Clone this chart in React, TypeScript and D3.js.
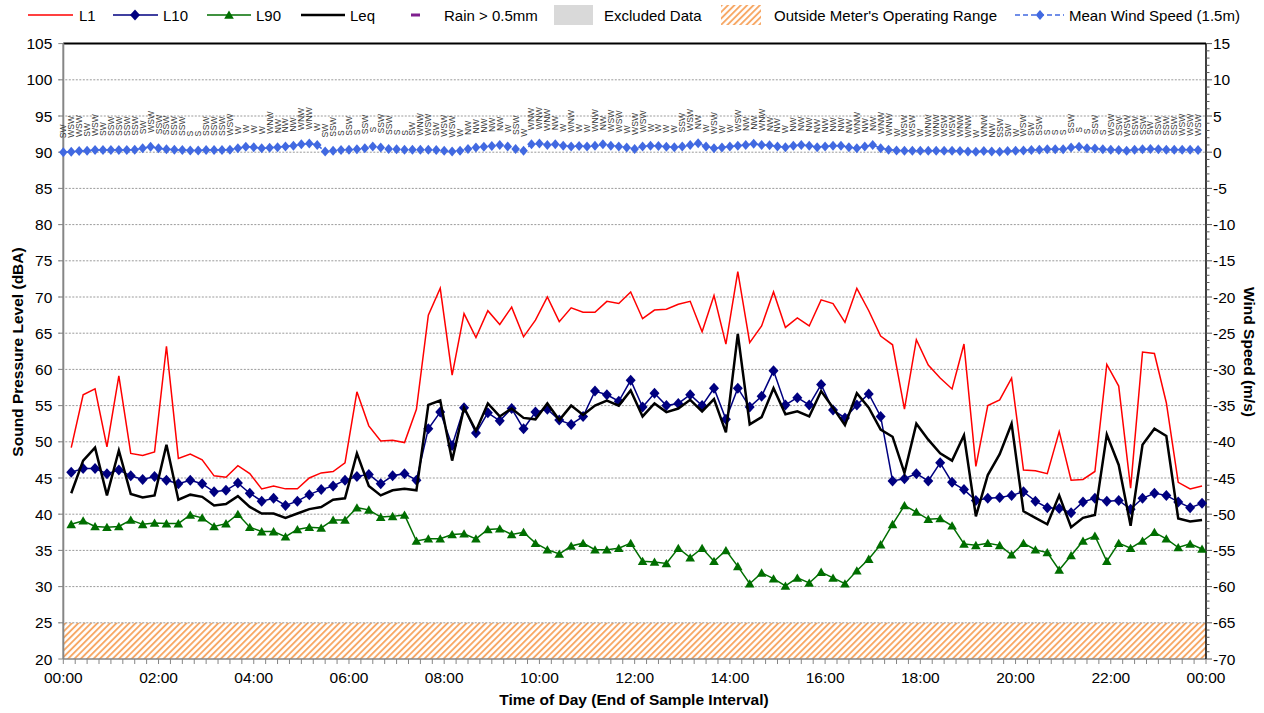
import * as d3 from "d3";

// 15-minute noise statistics (dBA)
const L1 = [49.2, 56.5, 57.3, 49.3, 59.1, 48.4, 48.1, 48.6, 63.2, 47.7, 48.3, 47.5, 45.3, 45.1, 46.7, 45.6, 43.5, 43.9, 43.5, 43.5, 45.0, 45.7, 45.9, 47.1, 56.9, 52.2, 50.1, 50.2, 49.9, 54.5, 67.5, 71.2, 59.2, 67.7, 64.4, 68.1, 66.2, 68.6, 64.5, 66.8, 70.0, 66.6, 68.5, 67.9, 67.9, 69.4, 69.1, 70.7, 67.0, 68.2, 68.3, 69.0, 69.4, 65.2, 70.2, 63.5, 73.5, 63.7, 66.0, 70.7, 65.8, 67.1, 66.0, 69.6, 69.1, 66.5, 71.2, 68.1, 64.6, 63.4, 54.5, 64.1, 60.6, 58.8, 57.3, 63.5, 46.6, 55.0, 55.8, 58.8, 46.1, 46.0, 45.6, 51.4, 44.7, 44.8, 45.9, 60.7, 57.7, 43.6, 62.4, 62.2, 55.4, 44.4, 43.5, 43.9];
const L10 = [45.8, 46.3, 46.3, 45.6, 46.1, 45.3, 44.8, 45.2, 44.7, 44.2, 44.7, 44.2, 43.1, 43.3, 44.3, 42.9, 41.8, 42.2, 41.2, 41.8, 42.7, 43.4, 43.9, 44.7, 45.2, 45.5, 44.2, 45.3, 45.6, 44.7, 51.8, 54.1, 49.5, 54.7, 51.2, 54.0, 52.9, 54.6, 51.8, 54.1, 54.5, 53.0, 52.4, 53.5, 57.0, 56.5, 55.6, 58.5, 54.8, 56.7, 55.0, 55.3, 56.5, 55.0, 57.4, 53.1, 57.4, 54.8, 56.3, 59.8, 55.1, 56.1, 55.1, 57.9, 54.4, 53.3, 55.1, 56.6, 53.5, 44.6, 44.9, 45.6, 44.6, 47.1, 44.4, 43.4, 41.9, 42.2, 42.3, 42.6, 43.1, 41.8, 40.9, 40.8, 40.2, 41.7, 42.2, 41.8, 41.9, 40.7, 42.2, 42.9, 42.6, 41.7, 40.9, 41.5];
const L90 = [38.6, 39.1, 38.3, 38.2, 38.3, 39.2, 38.6, 38.8, 38.7, 38.7, 39.9, 39.5, 38.3, 38.7, 40.0, 38.2, 37.6, 37.6, 36.9, 37.9, 38.2, 38.1, 39.2, 39.2, 40.9, 40.6, 39.6, 39.7, 39.9, 36.3, 36.6, 36.6, 37.2, 37.3, 36.6, 37.9, 38.0, 37.2, 37.5, 36.0, 35.1, 34.5, 35.6, 36.0, 35.1, 35.1, 35.3, 36.0, 33.5, 33.4, 33.2, 35.3, 34.0, 35.3, 33.5, 35.0, 32.8, 30.4, 31.9, 31.1, 30.1, 31.2, 30.5, 32.0, 31.2, 30.4, 32.2, 33.8, 35.8, 38.6, 41.2, 40.3, 39.3, 39.4, 38.4, 35.9, 35.7, 36.0, 35.7, 34.4, 36.0, 35.1, 34.7, 32.3, 34.3, 36.3, 37.0, 33.5, 36.0, 35.3, 36.3, 37.5, 36.6, 35.4, 35.9, 35.2];
const LEQ = [42.9, 47.4, 49.2, 42.6, 48.8, 42.8, 42.3, 42.6, 49.6, 42.0, 42.7, 42.4, 41.2, 41.4, 42.5, 41.0, 40.1, 40.1, 39.5, 40.1, 40.7, 41.0, 42.0, 42.2, 48.4, 43.9, 42.6, 43.3, 43.5, 43.3, 55.1, 55.7, 47.4, 54.7, 51.5, 55.3, 53.5, 54.6, 53.3, 53.1, 55.3, 53.0, 55.0, 53.7, 55.0, 55.7, 55.0, 57.1, 53.5, 55.3, 54.1, 54.6, 55.8, 54.2, 55.9, 51.3, 64.9, 52.4, 53.4, 57.4, 53.8, 54.2, 53.5, 57.0, 54.7, 52.3, 56.7, 54.7, 51.7, 50.7, 45.7, 52.5, 50.3, 48.4, 47.4, 50.9, 39.7, 45.4, 48.3, 52.5, 40.4, 39.5, 38.6, 42.6, 38.2, 39.5, 39.9, 51.0, 46.8, 38.4, 49.6, 51.8, 50.8, 39.4, 39.0, 39.2];

// 10-minute wind (m/s) and direction
const WIND_SPEED = [0.0, 0.05, 0.15, 0.2, 0.3, 0.3, 0.3, 0.3, 0.3, 0.35, 0.55, 0.75, 0.55, 0.4, 0.35, 0.3, 0.25, 0.25, 0.3, 0.3, 0.3, 0.35, 0.55, 0.75, 0.7, 0.55, 0.6, 0.7, 0.8, 0.9, 1.1, 1.2, 1.0, 0.1, 0.2, 0.3, 0.35, 0.4, 0.55, 0.8, 0.65, 0.45, 0.4, 0.35, 0.35, 0.35, 0.35, 0.3, 0.2, 0.1, 0.2, 0.45, 0.65, 0.75, 0.85, 1.0, 0.8, 0.45, 0.2, 1.1, 1.2, 1.0, 1.1, 0.9, 0.8, 0.85, 0.8, 0.9, 1.1, 0.9, 0.8, 0.65, 0.45, 0.8, 0.9, 0.85, 0.75, 0.7, 0.8, 1.0, 1.25, 0.8, 0.55, 0.65, 0.8, 0.9, 1.0, 1.15, 1.0, 0.95, 0.8, 0.7, 0.9, 1.0, 0.9, 0.7, 0.8, 0.9, 0.9, 0.7, 0.55, 0.8, 1.0, 0.55, 0.35, 0.25, 0.2, 0.2, 0.2, 0.2, 0.2, 0.2, 0.2, 0.15, 0.1, 0.05, 0.15, 0.1, 0.05, 0.15, 0.2, 0.25, 0.3, 0.35, 0.4, 0.4, 0.4, 0.65, 0.75, 0.55, 0.5, 0.4, 0.35, 0.3, 0.2, 0.35, 0.4, 0.45, 0.4, 0.35, 0.35, 0.35, 0.35, 0.3];
const WIND_DIR = [
  "SW", "WSW", "WSW", "SW", "WSW", "SW", "SSW", "SSW", "SSW", "SSW",
  "SW", "WSW", "SSW", "SSW", "SSW", "SSW", "S", "S", "SSW", "SSW",
  "SSW", "WSW", "W", "W", "W", "W", "WNW", "NW", "NW", "NW",
  "WNW", "WNW", "W", "SW", "SSW", "S", "SSW", "S", "SSW", "S",
  "SSW", "SSW", "S", "S", "SW", "WNW", "WSW", "SW", "WSW",
  "WSW", "W", "NW", "NW", "NW", "NW", "NW", "W", "SSW", "W",
  "WNW", "WNW", "WNW", "NW", "W", "WNW", "W", "W", "WNW", "NW",
  "WSW", "WSW", "W", "WSW", "WSW", "W", "W", "W", "W", "SSW",
  "WSW", "NW", "W", "WSW", "W", "W", "WSW", "NW", "NW", "WNW",
  "NW", "NW", "W", "NW", "NW", "NW", "NW",
  "NW", "NW", "NW", "NW", "WNW", "NW", "NW", "WNW", "WNW", "W",
  "WSW", "WSW", "W", "WNW", "WNW", "WSW", "WSW", "WNW", "WNW", "W",
  "WNW", "NW", "SSW", "SW", "W", "WSW", "SW", "SSW", "S", "S",
  "S", "SSW", "S", "S", "SSW", "S", "WSW", "SSW", "WSW", "SSW",
  "SSW", "SW", "SSW", "SSW", "SSW", "WSW", "WSW", "WSW",
];

const NOISE_OFFSET_MIN = 10;
const NOISE_STEP_MIN = 15;
const WIND_STEP_MIN = 10;

const W = 1264;
const H = 713;
const LEFT = 63.3;
const RIGHT = 1206;
const TOP = 43.6;
const BOTTOM = 659;

const day = new Date(2021, 0, 1);
const noiseTimes = L1.map((_, i) => d3.timeMinute.offset(day, NOISE_OFFSET_MIN + i * NOISE_STEP_MIN));
const windTimes = WIND_SPEED.map((_, i) => d3.timeMinute.offset(day, i * WIND_STEP_MIN));

const x = d3.scaleTime().domain([day, d3.timeDay.offset(day, 1)]).range([LEFT, RIGHT]);
const y = d3.scaleLinear().domain([20, 105]).range([BOTTOM, TOP]);
const y2 = d3.scaleLinear().domain([-70, 15]).range([BOTTOM, TOP]);

const diamond = "M0,-5.5L5,0L0,5.5L-5,0Z";
const windDiamond = "M0,-5L4.3,0L0,5L-4.3,0Z";
const triangle = "M0,-4.5L4.8,3.8L-4.8,3.8Z";

const FONT = "'Liberation Sans', Arial, sans-serif";

type LabelProps = {
  x: number;
  y: number;
  size: number;
  anchor?: "start" | "middle" | "end";
  bold?: boolean;
  rot?: number;
  children: React.ReactNode;
};

function Label({ x, y, size, anchor = "start", bold, rot, children }: LabelProps) {
  return (
    <text
      transform={`translate(${x},${y})${rot ? ` rotate(${rot})` : ""}`}
      fontSize={size}
      textAnchor={anchor}
      dominantBaseline="central"
      fontWeight={bold ? "bold" : "normal"}
      fill="#000"
    >
      {children}
    </text>
  );
}

export default function App() {
  const line = d3
    .line<number>()
    .x((_, i) => x(noiseTimes[i]))
    .y((d) => y(d));
  const windLine = d3
    .line<number>()
    .x((_, i) => x(windTimes[i]))
    .y((d) => y2(d));

  const gridVals = d3.range(25, 101, 5);
  const leftTicks = d3.range(20, 106, 5);
  const rightTicks = d3.range(-70, 16, 5);
  const rightMinor = d3.range(-70, 16, 1);
  const xMajor = x.ticks(d3.timeHour.every(2)!);
  const xMinor = x.ticks(d3.timeMinute.every(15)!);
  const fmt = d3.timeFormat("%H:%M");

  return (
    <div style={{ position: "absolute", left: 0, top: 0 }}>
      <svg width={W} height={H} style={{ display: "block", background: "#fff" }} fontFamily={FONT}>
        <defs>
          <pattern id="hatch" patternUnits="userSpaceOnUse" width={4.5} height={4.5} patternTransform="rotate(45)">
            <rect width={4.5} height={4.5} fill="#fff" />
            <line x1={1} y1={0} x2={1} y2={4.5} stroke="#F7A35C" strokeWidth={1.8} />
          </pattern>
        </defs>

        {/* operating range band */}
        <rect x={LEFT} y={y(25)} width={RIGHT - LEFT} height={y(20) - y(25)} fill="url(#hatch)" />

        {/* gridlines */}
        {gridVals.map((v) => (
          <line key={v} x1={LEFT - 5} x2={RIGHT} y1={y(v)} y2={y(v)} stroke="#9a9a9a" strokeWidth={1} strokeDasharray="2,1.5" />
        ))}

        {/* axes */}
        <line x1={LEFT} x2={RIGHT} y1={TOP} y2={TOP} stroke="#000" strokeWidth={2} />
        <line x1={LEFT} x2={RIGHT} y1={BOTTOM} y2={BOTTOM} stroke="#868686" strokeWidth={1.5} />
        <line x1={LEFT} x2={LEFT} y1={TOP} y2={BOTTOM} stroke="#868686" strokeWidth={2} />
        <line x1={RIGHT} x2={RIGHT} y1={TOP} y2={BOTTOM} stroke="#000" strokeWidth={1.5} />
        {leftTicks.map((v) => (
          <g key={v}>
            <line x1={LEFT - 5} x2={LEFT} y1={y(v)} y2={y(v)} stroke="#868686" />
            <Label x={LEFT - 11} y={y(v)} size={15.5} anchor="end">{v}</Label>
          </g>
        ))}
        {rightMinor.map((v) => (
          <line key={v} x1={RIGHT} x2={RIGHT + (v % 5 === 0 ? 6 : 3.5)} y1={y2(v)} y2={y2(v)} stroke="#555" />
        ))}
        {rightTicks.map((v) => (
          <Label key={v} x={RIGHT + 7} y={y2(v)} size={15.5}>{v}</Label>
        ))}
        {xMinor.map((t, i) => (
          <line key={i} x1={x(t)} x2={x(t)} y1={BOTTOM} y2={BOTTOM + 5} stroke="#868686" />
        ))}
        {xMajor.map((t, i) => (
          <Label key={i} x={x(t)} y={BOTTOM + 18} size={15.5} anchor="middle">{fmt(t)}</Label>
        ))}

        {/* axis titles */}
        <Label x={634} y={699} size={15.5} anchor="middle" bold>Time of Day (End of Sample Interval)</Label>
        <Label x={17} y={352} size={15.5} anchor="middle" bold rot={-90}>Sound Pressure Level (dBA)</Label>
        <Label x={1249} y={352} size={15.5} anchor="middle" bold rot={90}>Wind Speed (m/s)</Label>

        {/* series */}
        <path d={line(L1)!} fill="none" stroke="#FF0000" strokeWidth={1.5} />
        <path d={line(L10)!} fill="none" stroke="#000080" strokeWidth={1.5} />
        {L10.map((v, i) => (
          <path key={i} d={diamond} transform={`translate(${x(noiseTimes[i])},${y(v)})`} fill="#000080" />
        ))}
        <path d={line(L90)!} fill="none" stroke="#006E00" strokeWidth={1.5} />
        {L90.map((v, i) => (
          <path key={i} d={triangle} transform={`translate(${x(noiseTimes[i])},${y(v)})`} fill="#006E00" />
        ))}
        <path d={line(LEQ)!} fill="none" stroke="#000" strokeWidth={2.5} />

        {/* wind */}
        <path d={windLine(WIND_SPEED)!} fill="none" stroke="#4169E1" strokeWidth={1.5} strokeDasharray="5,3" />
        {WIND_SPEED.map((v, i) => (
          <path key={i} d={windDiamond} transform={`translate(${x(windTimes[i])},${y2(v)})`} fill="#4169E1" />
        ))}
        <g fontSize={8.6} fill="#333">
          {WIND_SPEED.map((v, i) => (
            <text key={i} transform={`translate(${x(windTimes[i]) + 3},${y2(v) - 14}) rotate(-90)`} textAnchor="start">
              {WIND_DIR[i]}
            </text>
          ))}
        </g>

        {/* legend */}
        <g>
          <line x1={28} x2={73} y1={15} y2={15} stroke="#FF0000" strokeWidth={1.5} />
          <Label x={79} y={15} size={15}>L1</Label>
          <line x1={113} x2={158} y1={15} y2={15} stroke="#000080" strokeWidth={1.5} />
          <path d={diamond} transform="translate(135,15)" fill="#000080" />
          <Label x={163} y={15} size={15}>L10</Label>
          <line x1={207} x2={251} y1={15} y2={15} stroke="#006E00" strokeWidth={1.5} />
          <path d={triangle} transform="translate(229,15)" fill="#006E00" />
          <Label x={256} y={15} size={15}>L90</Label>
          <line x1={301} x2={345} y1={15} y2={15} stroke="#000" strokeWidth={2.5} />
          <Label x={350} y={15} size={15}>Leq</Label>
          <line x1={411} x2={420} y1={15} y2={15} stroke="#7F1F8F" strokeWidth={3} />
          <Label x={444} y={15} size={15}>{"Rain > 0.5mm"}</Label>
          <rect x={554} y={5} width={39} height={20} fill="#D9D9D9" />
          <Label x={604} y={15} size={15}>Excluded Data</Label>
          <rect x={721} y={5} width={40} height={20} fill="url(#hatch)" />
          <Label x={774} y={15} size={15}>Outside Meter's Operating Range</Label>
          <line x1={1015} x2={1064} y1={15} y2={15} stroke="#4169E1" strokeWidth={1.5} strokeDasharray="5,3" />
          <path d={windDiamond} transform="translate(1040,15)" fill="#4169E1" />
          <Label x={1069} y={15} size={15}>Mean Wind Speed (1.5m)</Label>
        </g>
      </svg>
    </div>
  );
}
